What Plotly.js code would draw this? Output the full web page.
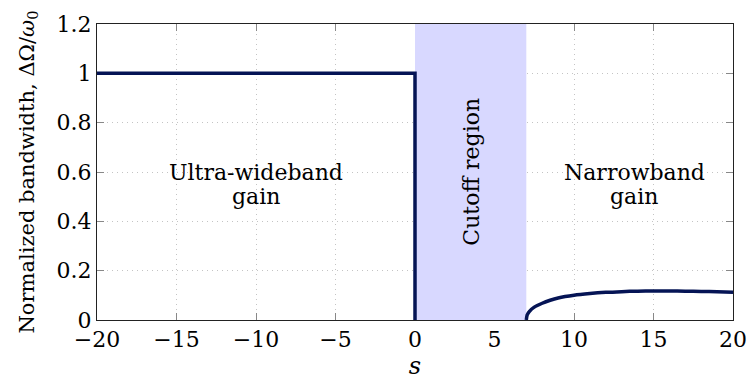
<!DOCTYPE html>
<html>
<head>
<meta charset="utf-8">
<script src="https://cdn.plot.ly/plotly-3.0.1.min.js"></script>
<style>html,body{margin:0;padding:0;background:#fff;}#chart{width:748px;height:385px;}</style>
</head>
<body>
<div id="chart"></div>
<script>
// Ultra-wideband branch (s <= 0)
const uwbS = [-20, 0, 0];
const uwbBW = [1, 1, 0];
// Narrowband branch (s >= 7)
const nbS = [7, 7.05, 7.2, 7.5, 8, 8.5, 9, 10, 11, 12, 13, 14, 15, 16, 17, 18, 19, 20];
const nbBW = [0, 0.02, 0.035, 0.052, 0.068, 0.08, 0.089, 0.1, 0.107, 0.112, 0.115, 0.117, 0.118, 0.118, 0.117, 0.116, 0.115, 0.113];
// Cutoff region limits
const cutoffS = [0, 7];
const yRange = [0, 1.2];
// Ticks
const xTicks = [-20, -15, -10, -5, 0, 5, 10, 15, 20];
const xTickText = ["−20", "−15", "−10", "−5", "0", "5", "10", "15", "20"];
const yTicks = [0, 0.2, 0.4, 0.6, 0.8, 1, 1.2];
const yTickText = ["0", "0.2", "0.4", "0.6", "0.8", "1", "1.2"];
// Region labels (one entry per text line)
const labelText = ["Ultra-wideband", "gain", "Cutoff region", "Narrowband", "gain"];
const labelS = [-10, -10, 3.5, 13.8, 13.8];
const labelBW = [0.55, 0.55, 0.6, 0.55, 0.55];
const labelShift = [12, -12, 0, 12, -12];

const navy = "rgb(5,20,85)";
const font = "DejaVu Serif";

const traces = [
  {
    x: [cutoffS[0], cutoffS[0], cutoffS[1], cutoffS[1]],
    y: [yRange[0], yRange[1], yRange[1], yRange[0]],
    fill: "toself", fillcolor: "rgb(216,216,255)",
    mode: "lines", line: {width: 0}, hoverinfo: "skip", showlegend: false
  },
  {
    x: uwbS, y: uwbBW, mode: "lines",
    line: {color: navy, width: 3.5}, showlegend: false
  },
  {
    x: nbS, y: nbBW, mode: "lines",
    line: {color: navy, width: 3.5, shape: "spline", smoothing: 0.6}, showlegend: false
  }
];

const axisCommon = {
  showline: true, linecolor: "#222", linewidth: 1, mirror: "allticks",
  ticks: "inside", ticklen: 7, tickcolor: "#888", tickwidth: 1,
  showgrid: true, gridcolor: "#c4c4c4", griddash: "1px,4px", gridwidth: 1,
  zeroline: false, layer: "below traces",
  tickfont: {family: font, size: 22, color: "#000"}
};

const layout = {
  width: 748, height: 385,
  margin: {l: 97, r: 15, t: 24, b: 65},
  paper_bgcolor: "#fff", plot_bgcolor: "#fff",
  font: {family: font, color: "#000", size: 22},
  xaxis: Object.assign({}, axisCommon, {
    range: [-20, 20], tickmode: "array", tickvals: xTicks, ticktext: xTickText,
    title: {text: "<i>s</i>", font: {family: font, size: 24}, standoff: 4}
  }),
  yaxis: Object.assign({}, axisCommon, {
    range: yRange, tickmode: "array", tickvals: yTicks, ticktext: yTickText,
    title: {text: "Normalized bandwidth, ΔΩ/<i>ω</i><sub>0</sub>", font: {family: font, size: 21}, standoff: 16}
  }),
  annotations: labelText.map((t, i) => ({
    x: labelS[i], y: labelBW[i], xref: "x", yref: "y", text: t, showarrow: false,
    yshift: labelShift[i],
    textangle: i === 2 ? -90 : 0,
    font: {family: font, size: 22, color: "#000"}, align: "center"
  }))
};

Plotly.newPlot("chart", traces, layout, {displayModeBar: false, staticPlot: true});
</script>
</body>
</html>
